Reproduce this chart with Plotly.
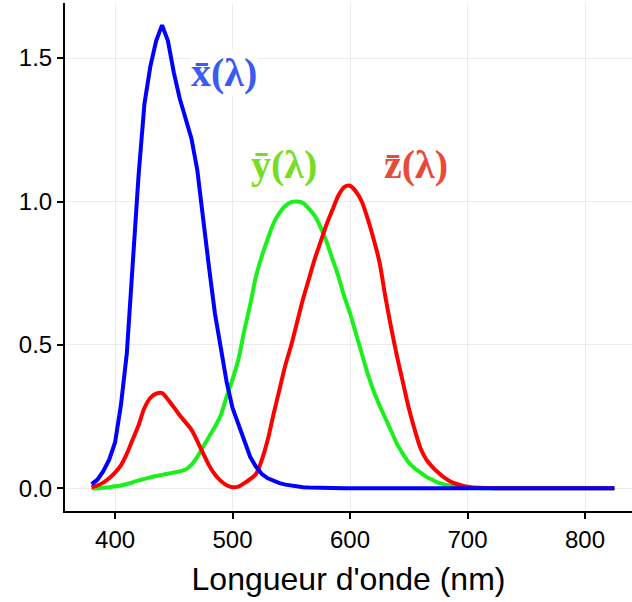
import plotly.graph_objects as go

wavelength = [380, 385, 390, 395, 400, 405, 410, 415, 420, 425, 430, 435, 440, 445, 450,
              455, 460, 465, 470, 475, 480, 485, 490, 495, 500, 505, 510, 515, 520, 525,
              530, 535, 540, 545, 550, 555, 560, 565, 570, 575, 580, 585, 590, 595, 600,
              605, 610, 615, 620, 625, 630, 635, 640, 645, 650, 655, 660, 665, 670, 675,
              680, 685, 690, 695, 700, 710, 720, 730, 740, 750, 760, 770, 780, 790, 800,
              810, 820, 825]

blue_vals = [0.015, 0.03, 0.06, 0.10, 0.16, 0.29, 0.47, 0.78, 1.09, 1.34, 1.47, 1.56, 1.615, 1.56, 1.45,
             1.36, 1.29, 1.22, 1.11, 0.93, 0.77, 0.61, 0.48, 0.37, 0.28, 0.22, 0.16, 0.11, 0.075, 0.05,
             0.035, 0.025, 0.018, 0.013, 0.009, 0.006, 0.004, 0.003, 0.002, 0.001, 0.001, 0.0, 0.0, 0.0, 0.0,
             0.0, 0.0, 0.0, 0.0, 0.0, 0.0, 0.0, 0.0, 0.0, 0.0, 0.0, 0.0, 0.0, 0.0, 0.0,
             0.0, 0.0, 0.0, 0.0, 0.0, 0.0, 0.0, 0.0, 0.0, 0.0, 0.0, 0.0, 0.0, 0.0, 0.0,
             0.0, 0.0, 0.0]

green_vals = [0.0, 0.0, 0.002, 0.004, 0.007, 0.010, 0.015, 0.021, 0.028, 0.033, 0.038, 0.043, 0.047, 0.051, 0.055,
              0.059, 0.066, 0.082, 0.11, 0.145, 0.18, 0.215, 0.255, 0.32, 0.38, 0.45, 0.55, 0.64, 0.74, 0.81,
              0.87, 0.925, 0.96, 0.985, 0.998, 1.0, 0.995, 0.975, 0.95, 0.91, 0.86, 0.80, 0.74, 0.67, 0.61,
              0.54, 0.47, 0.40, 0.34, 0.29, 0.245, 0.20, 0.155, 0.12, 0.09, 0.07, 0.055, 0.04, 0.03, 0.02,
              0.014, 0.009, 0.006, 0.004, 0.002, 0.001, 0.0, 0.0, 0.0, 0.0, 0.0, 0.0, 0.0, 0.0, 0.0,
              0.0, 0.0, 0.0]

red_vals = [0.004, 0.010, 0.020, 0.035, 0.055, 0.080, 0.120, 0.170, 0.220, 0.280, 0.315, 0.330, 0.332, 0.310, 0.283,
            0.255, 0.230, 0.205, 0.165, 0.122, 0.080, 0.048, 0.026, 0.011, 0.004, 0.006, 0.018, 0.032, 0.05, 0.10,
            0.17, 0.26, 0.345, 0.43, 0.50, 0.58, 0.66, 0.73, 0.80, 0.86, 0.92, 0.97, 1.02, 1.05, 1.055,
            1.035, 1.0, 0.94, 0.87, 0.79, 0.67, 0.56, 0.46, 0.37, 0.28, 0.205, 0.14, 0.10, 0.075, 0.055,
            0.038, 0.025, 0.016, 0.010, 0.006, 0.002, 0.001, 0.0, 0.0, 0.0, 0.0, 0.0, 0.0, 0.0, 0.0,
            0.0, 0.0, 0.0]

x_ticks = [400, 500, 600, 700, 800]
y_ticks = [0.0, 0.5, 1.0, 1.5]

labels = ["x\u0304(\u03bb)", "y\u0304(\u03bb)", "z\u0304(\u03bb)"]

fig = go.Figure()
fig.add_trace(go.Scatter(x=wavelength, y=green_vals, mode="lines",
                         line=dict(color="#1cf01c", width=4, shape="spline", smoothing=0.8),
                         showlegend=False))
fig.add_trace(go.Scatter(x=wavelength, y=red_vals, mode="lines",
                         line=dict(color="#ff0000", width=4, shape="spline", smoothing=0.8),
                         showlegend=False))
fig.add_trace(go.Scatter(x=wavelength, y=blue_vals, mode="lines",
                         line=dict(color="#0000ff", width=4),
                         showlegend=False))

ann_font = dict(family="Liberation Serif, DejaVu Serif, serif", size=40)
fig.add_annotation(x=492.8, y=1.448, text="<b>" + labels[0] + "</b>", showarrow=False,
                   font=dict(color="#3a5cf0", **ann_font), bgcolor="white", borderpad=0)
fig.add_annotation(x=543.8, y=1.13, text="<b>" + labels[1] + "</b>", showarrow=False,
                   font=dict(color="#77dd22", **ann_font), bgcolor="white", borderpad=0)
fig.add_annotation(x=656.2, y=1.13, text="<b>" + labels[2] + "</b>", showarrow=False,
                   font=dict(color="#e84a3a", **ann_font), bgcolor="white", borderpad=0)

fig.update_layout(
    width=632, height=602,
    margin=dict(l=65, r=0, t=3, b=91),
    plot_bgcolor="white", paper_bgcolor="white",
    font=dict(family="Liberation Sans, Arial, sans-serif", color="black"),
)
fig.update_xaxes(range=[357.4, 840], tickvals=x_ticks, ticktext=[str(v) for v in x_ticks],
                 showline=True, linecolor="black", linewidth=2,
                 ticks="outside", ticklen=6, tickwidth=1.5, tickcolor="black",
                 showgrid=True, gridcolor="#ebebeb", gridwidth=1, zeroline=False,
                 tickfont=dict(size=24), automargin=False,
                 title=dict(text="Longueur d'onde (nm)", font=dict(size=32), standoff=16))
fig.update_yaxes(range=[-0.079, 1.692], tickvals=y_ticks, ticktext=["%.1f" % v for v in y_ticks],
                 showline=True, linecolor="black", linewidth=2,
                 ticks="outside", ticklen=6, tickwidth=1.5, tickcolor="black",
                 showgrid=True, gridcolor="#ebebeb", gridwidth=1, zeroline=False,
                 tickfont=dict(size=24), automargin=False)

fig.write_html("out.html", config={"displayModeBar": False},
               post_script="document.body.style.margin='0';")
